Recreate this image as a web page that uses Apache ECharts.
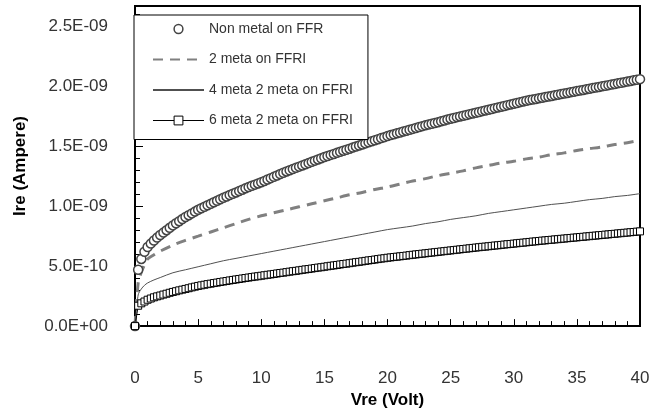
<!DOCTYPE html>
<html>
<head>
<meta charset="utf-8">
<script src="https://cdn.jsdelivr.net/npm/echarts@6/dist/echarts.min.js"></script>
<style>
  html, body { margin: 0; padding: 0; background: #fff; }
  #chart { width: 655px; height: 414px; }
</style>
</head>
<body>
<div id="chart"></div>
<script>
// currents in units of 1e-10 A
const unit = 1e-10;

const seriesNames = [
    'Non metal on FFR',
    '2 meta on FFRI',
    '4 meta 2 meta on FFRI',
    '6 meta 2 meta on FFRI'
];

// dense sweep (marker series), 0.25 V step
const voltage = [
    0, 0.25, 0.5, 0.75, 1, 1.25, 1.5, 1.75, 2, 2.25, 2.5, 2.75, 3, 3.25, 3.5, 3.75,
    4, 4.25, 4.5, 4.75, 5, 5.25, 5.5, 5.75, 6, 6.25, 6.5, 6.75, 7, 7.25, 7.5, 7.75,
    8, 8.25, 8.5, 8.75, 9, 9.25, 9.5, 9.75, 10, 10.25, 10.5, 10.75, 11, 11.25, 11.5, 11.75,
    12, 12.25, 12.5, 12.75, 13, 13.25, 13.5, 13.75, 14, 14.25, 14.5, 14.75, 15, 15.25, 15.5, 15.75,
    16, 16.25, 16.5, 16.75, 17, 17.25, 17.5, 17.75, 18, 18.25, 18.5, 18.75, 19, 19.25, 19.5, 19.75,
    20, 20.25, 20.5, 20.75, 21, 21.25, 21.5, 21.75, 22, 22.25, 22.5, 22.75, 23, 23.25, 23.5, 23.75,
    24, 24.25, 24.5, 24.75, 25, 25.25, 25.5, 25.75, 26, 26.25, 26.5, 26.75, 27, 27.25, 27.5, 27.75,
    28, 28.25, 28.5, 28.75, 29, 29.25, 29.5, 29.75, 30, 30.25, 30.5, 30.75, 31, 31.25, 31.5, 31.75,
    32, 32.25, 32.5, 32.75, 33, 33.25, 33.5, 33.75, 34, 34.25, 34.5, 34.75, 35, 35.25, 35.5, 35.75,
    36, 36.25, 36.5, 36.75, 37, 37.25, 37.5, 37.75, 38, 38.25, 38.5, 38.75, 39, 39.25, 39.5, 39.75,
    40
];

const nonMetal = [
    0, 4.7, 5.6, 6.2, 6.6, 6.88, 7.14, 7.38, 7.6, 7.8, 8.0, 8.2, 8.4, 8.58, 8.75, 8.93,
    9.1, 9.25, 9.4, 9.55, 9.7, 9.83, 9.95, 10.08, 10.2, 10.33, 10.45, 10.58, 10.7, 10.81, 10.93, 11.04,
    11.15, 11.26, 11.38, 11.49, 11.6, 11.7, 11.8, 11.9, 12.0, 12.11, 12.23, 12.34, 12.45, 12.56, 12.68, 12.79,
    12.9, 13.0, 13.1, 13.2, 13.3, 13.4, 13.5, 13.6, 13.7, 13.8, 13.9, 14.0, 14.1, 14.19, 14.28, 14.36,
    14.45, 14.54, 14.63, 14.71, 14.8, 14.89, 14.98, 15.06, 15.15, 15.24, 15.33, 15.41, 15.5, 15.59, 15.68, 15.76,
    15.85, 15.93, 16.0, 16.08, 16.15, 16.23, 16.3, 16.38, 16.45, 16.53, 16.6, 16.68, 16.75, 16.81, 16.88, 16.94,
    17.0, 17.08, 17.15, 17.23, 17.3, 17.36, 17.43, 17.49, 17.55, 17.61, 17.68, 17.74, 17.8, 17.86, 17.93, 17.99,
    18.05, 18.11, 18.18, 18.24, 18.3, 18.36, 18.43, 18.49, 18.55, 18.61, 18.68, 18.74, 18.8, 18.85, 18.9, 18.95,
    19.0, 19.05, 19.1, 19.15, 19.2, 19.25, 19.3, 19.35, 19.4, 19.45, 19.5, 19.55, 19.6, 19.65, 19.7, 19.75,
    19.8, 19.85, 19.9, 19.95, 20.0, 20.05, 20.1, 20.15, 20.2, 20.25, 20.3, 20.35, 20.4, 20.45, 20.5, 20.55,
    20.6
];

const sixMeta = [
    0, 1.7, 1.9, 2.05, 2.2, 2.3, 2.4, 2.48, 2.55, 2.63, 2.7, 2.78, 2.85, 2.91, 2.98, 3.04,
    3.1, 3.16, 3.23, 3.29, 3.35, 3.4, 3.45, 3.5, 3.54, 3.59, 3.63, 3.68, 3.72, 3.76, 3.81, 3.85,
    3.89, 3.93, 3.97, 4.01, 4.05, 4.09, 4.13, 4.16, 4.2, 4.24, 4.28, 4.31, 4.35, 4.39, 4.43, 4.46,
    4.5, 4.54, 4.58, 4.61, 4.65, 4.69, 4.73, 4.76, 4.8, 4.84, 4.88, 4.91, 4.95, 4.99, 5.03, 5.06,
    5.1, 5.14, 5.18, 5.21, 5.25, 5.29, 5.33, 5.36, 5.4, 5.44, 5.48, 5.51, 5.55, 5.59, 5.63, 5.66,
    5.7, 5.73, 5.76, 5.79, 5.82, 5.85, 5.88, 5.92, 5.95, 5.98, 6.01, 6.04, 6.07, 6.1, 6.13, 6.16,
    6.19, 6.22, 6.25, 6.28, 6.31, 6.34, 6.37, 6.4, 6.43, 6.46, 6.49, 6.52, 6.55, 6.58, 6.61, 6.63,
    6.66, 6.69, 6.72, 6.74, 6.77, 6.8, 6.83, 6.85, 6.88, 6.91, 6.94, 6.96, 6.99, 7.02, 7.05, 7.07,
    7.1, 7.13, 7.15, 7.18, 7.2, 7.23, 7.25, 7.28, 7.3, 7.33, 7.35, 7.38, 7.4, 7.43, 7.45, 7.48,
    7.5, 7.53, 7.55, 7.58, 7.6, 7.63, 7.65, 7.68, 7.7, 7.73, 7.75, 7.78, 7.8, 7.83, 7.85, 7.88,
    7.9
];

// coarser sweep for the plain line series
const lineVoltage = [
    0, 0.25, 0.5, 0.75, 1, 1.5, 2, 3, 4, 5, 6, 7, 8, 9, 10, 11, 12, 13, 14, 15, 16, 17, 18, 19, 20,
    21, 22, 23, 24, 25, 26, 27, 28, 29, 30, 31, 32, 33, 34, 35, 36, 37, 38, 39, 40
];

const twoMeta = [
    0, 3.6, 4.5, 5.1, 5.6, 5.95, 6.25, 6.75, 7.15, 7.5, 7.85, 8.2, 8.55, 8.9, 9.2, 9.45, 9.7, 9.95, 10.2, 10.45, 10.7,
    10.95, 11.15, 11.4, 11.6, 11.85, 12.1, 12.3, 12.55, 12.75, 12.95, 13.2, 13.4, 13.6, 13.75, 13.95, 14.1, 14.3,
    14.45, 14.65, 14.8, 14.95, 15.15, 15.3, 15.5
];

const fourMeta = [
    0, 2.6, 3.1, 3.4, 3.6, 3.85, 4.05, 4.45, 4.7, 4.95, 5.2, 5.45, 5.65, 5.85, 6.05, 6.25, 6.45, 6.65, 6.85, 7.05, 7.25,
    7.45, 7.65, 7.85, 8.05, 8.2, 8.35, 8.55, 8.7, 8.9, 9.05, 9.2, 9.4, 9.55, 9.7, 9.85, 10.0, 10.15, 10.25, 10.4,
    10.55, 10.65, 10.8, 10.9, 11.05
];

const xTicks = { min: 0, max: 40, interval: 5 };
const yTicks = { min: 0, max: 2.67e-9, interval: 5e-10 };

function pairs(xs, ys) {
    return xs.map(function (x, i) { return [x, ys[i] * unit]; });
}

function sciLabel(v) {
    const parts = v.toExponential(1).split('e');
    const exp = parts[1];
    return parts[0] + 'E' + exp[0] + exp.slice(1).padStart(2, '0');
}

const font = "'Liberation Sans', Arial, sans-serif";
const hideMarker = { opacity: 0, borderWidth: 0 };

option = {
    backgroundColor: '#fff',
    animation: false,
    textStyle: { fontFamily: font },
    grid: {
        left: 135,
        right: 15,
        top: 6,
        bottom: 85,
        show: true,
        borderColor: '#000',
        borderWidth: 2,
        backgroundColor: 'transparent'
    },
    legend: {
        orient: 'vertical',
        left: 134,
        top: 15,
        padding: [7, 15, 12, 18],
        itemGap: 16.5,
        itemWidth: 51,
        itemHeight: 11,
        backgroundColor: '#fff',
        borderColor: '#000',
        borderWidth: 1,
        borderRadius: 0,
        selectedMode: false,
        textStyle: { fontFamily: font, fontSize: 14, color: '#333' },
        data: [
            { name: seriesNames[0], itemStyle: { borderWidth: 1.5 } },
            { name: seriesNames[1], itemStyle: hideMarker },
            { name: seriesNames[2], itemStyle: hideMarker },
            { name: seriesNames[3], itemStyle: { borderWidth: 1 }, lineStyle: { width: 1 } }
        ]
    },
    xAxis: {
        type: 'value',
        min: xTicks.min,
        max: xTicks.max,
        interval: xTicks.interval,
        name: 'Vre (Volt)',
        nameLocation: 'middle',
        nameGap: 62,
        nameTextStyle: { fontFamily: font, fontSize: 17, fontWeight: 'bold', color: '#000' },
        axisLine: { lineStyle: { color: '#000', width: 2 } },
        axisTick: { inside: true, length: 7, lineStyle: { color: '#000', width: 1 } },
        minorTick: { show: true, splitNumber: 5, length: 5, lineStyle: { color: '#000', width: 1 } },
        axisLabel: { margin: 44, fontSize: 17, color: '#333', fontFamily: font },
        splitLine: { show: false }
    },
    yAxis: {
        type: 'value',
        min: yTicks.min,
        max: yTicks.max,
        interval: yTicks.interval,
        name: 'Ire (Ampere)',
        nameLocation: 'middle',
        nameRotate: 90,
        nameGap: 106,
        nameTextStyle: { fontFamily: font, fontSize: 17, fontWeight: 'bold', color: '#000' },
        axisLine: { lineStyle: { color: '#000', width: 2 } },
        axisTick: { inside: true, length: 8, lineStyle: { color: '#000', width: 1 } },
        minorTick: { show: true, splitNumber: 5, length: 5, lineStyle: { color: '#000', width: 1 } },
        axisLabel: {
            margin: 27,
            fontSize: 17,
            color: '#333',
            fontFamily: font,
            showMaxLabel: false,
            formatter: sciLabel
        },
        splitLine: { show: false }
    },
    series: [
        {
            name: seriesNames[0],
            type: 'line',
            data: pairs(voltage, nonMetal),
            symbol: 'circle',
            symbolSize: 9,
            showAllSymbol: true,
            lineStyle: { width: 0, opacity: 0 },
            itemStyle: { color: '#fff', borderColor: '#444', borderWidth: 1.5 },
            z: 3
        },
        {
            name: seriesNames[1],
            type: 'line',
            data: pairs(lineVoltage, twoMeta),
            symbol: 'none',
            smooth: 0.3,
            lineStyle: { color: '#808080', width: 3, type: [10, 7] },
            itemStyle: { color: '#808080' }
        },
        {
            name: seriesNames[2],
            type: 'line',
            data: pairs(lineVoltage, fourMeta),
            symbol: 'none',
            smooth: 0.3,
            lineStyle: { color: '#505050', width: 1 },
            itemStyle: { color: '#505050' }
        },
        {
            name: seriesNames[3],
            type: 'line',
            data: pairs(voltage, sixMeta),
            symbol: 'rect',
            symbolSize: 7,
            showAllSymbol: true,
            lineStyle: { color: '#000', width: 1 },
            itemStyle: { color: '#fff', borderColor: '#000', borderWidth: 1 }
        }
    ]
};

const dom = document.getElementById('chart');
const chart = echarts.init(dom);
chart.setOption(option);
</script>
</body>
</html>
